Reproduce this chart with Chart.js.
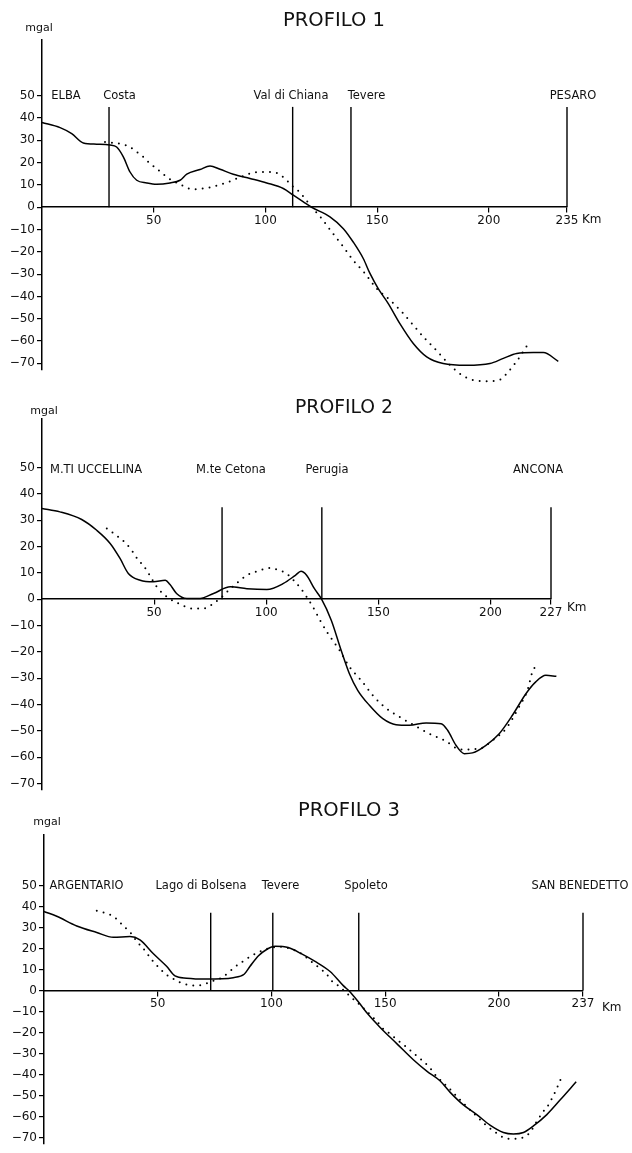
<!DOCTYPE html>
<html>
<head>
<meta charset="utf-8">
<script src="https://cdn.jsdelivr.net/npm/chart.js@4.4.1/dist/chart.umd.min.js"></script>
<style>
  html, body { margin: 0; padding: 0; background: #fff; }
  #wrap { position: relative; width: 632px; height: 1153px; }
  #wrap canvas { position: absolute; left: 0; top: 0; }
</style>
</head>
<body>
<div id="wrap">
  <canvas id="p1" width="632" height="1153"></canvas>
  <canvas id="p2" width="632" height="1153"></canvas>
  <canvas id="p3" width="632" height="1153"></canvas>
</div>
<script>
// ---- PROFILO 1 ----
const p1SolidKm  = [0, 8.1, 13.3, 18.5, 24.5, 30.4, 33.4, 36.4, 39.4, 42.4, 46.9, 51.3, 57.3, 61.8, 64.8, 70.7, 75.2, 79.7, 85.6, 93.1, 100.6, 108, 112.5, 117, 120.7, 128.9, 134.9, 139.3, 143.8, 146.8, 150.5, 155, 160.2, 166.2, 172.2, 179.6, 190.1, 200.5, 206.5, 212.5, 219.9, 224.4, 231.1];
const p1SolidVal = [38, 35.7, 33, 28.8, 28.3, 27.9, 27, 22.6, 15.8, 12.1, 10.9, 10.3, 10.9, 12.1, 14.8, 16.9, 18.5, 17, 14.8, 12.9, 10.9, 8.4, 5.4, 2.4, 0, -4.3, -9.6, -15.6, -23, -29.7, -36.5, -43.2, -52.2, -61.1, -67.1, -70.1, -70.9, -70.1, -67.8, -65.6, -65.2, -65.2, -69.1];
const p1DotKm  = [28.2, 31.9, 35.7, 39.4, 42.4, 45.3, 48.3, 51.3, 54.3, 58, 61.8, 64.8, 68.5, 72.2, 76, 79.7, 83.4, 87.2, 90.9, 94.6, 98.3, 102.1, 105.8, 109.5, 112.5, 115.5, 120, 125.2, 129.7, 134.9, 139.3, 144.6, 149.8, 155.5, 161, 166.2, 171.4, 176.7, 181.9, 187.9, 193, 199, 205, 208, 212.8, 217];
const p1DotVal = [29.3, 28.8, 28.3, 27, 24.8, 22.6, 19.6, 17.4, 14.8, 12.1, 10.3, 8.7, 8.1, 8.4, 9.1, 10.2, 11.3, 12.9, 14.3, 15.6, 15.8, 15.8, 15.1, 12.1, 9.1, 6.6, 0.9, -5.1, -11.1, -17.8, -23.8, -29.7, -36.5, -41.4, -46.9, -52.9, -58.9, -64.4, -70.1, -75.3, -77.5, -78, -77.3, -74.6, -68.6, -62.3];
const p1Places  = ['ELBA', 'Costa', 'Val di Chiana', 'Tevere', 'PESARO'];
const p1LinesKm = [30, 112.2, 138.3, 235];
const p1XTicks  = [50, 100, 150, 200, 235];

// ---- PROFILO 2 ----
const p2SolidKm  = [0, 8, 17.7, 24.4, 30.4, 34.8, 38.5, 43.8, 49.7, 55, 57, 60, 64.6, 70.5, 76.5, 84, 91.4, 100.3, 107.7, 113, 115.5, 118, 121.5, 124.5, 129, 133.4, 137.1, 140.8, 146, 152, 157.9, 163.8, 171.3, 178, 180.9, 184.6, 188.3, 192, 198, 203.9, 209.8, 215.8, 220.2, 224.7, 229.4];
const p2SolidVal = [34.5, 33.2, 30.3, 26.2, 21.2, 15.5, 9.8, 7.2, 6.6, 7.2, 5.7, 2.2, 0.3, 0.3, 2.2, 4.7, 4, 3.7, 6, 9.1, 10.6, 9.1, 4, 0.3, -8, -19.4, -28.3, -34.6, -40.3, -45.4, -47.7, -47.9, -47, -47.3, -49.8, -55.5, -58.7, -58.4, -55.5, -51.1, -44.1, -35.9, -31.4, -28.9, -29.3];
const p2DotKm  = [28.9, 32, 35, 37.5, 40.5, 43, 45.2, 47.4, 51.2, 55.7, 61.6, 66.8, 72, 76.5, 80.2, 84, 87.6, 91.4, 97.3, 101.8, 105.5, 109, 113.5, 116.5, 120.8, 124, 127.5, 132.7, 137.1, 142.3, 147.5, 152.7, 159.4, 166, 172.7, 179.4, 186.9, 195, 201, 206.9, 212.8, 216.5, 218.7, 220.5];
const p2DotVal = [26.9, 25, 23, 21.2, 18, 14.8, 12.9, 10, 4.7, 0.9, -1.9, -3.5, -3.5, -1.6, 0.9, 4, 6.6, 9.1, 11, 11.9, 11, 9.8, 6, 2.8, -2.9, -8, -13, -19.4, -25.7, -30.8, -36.5, -40.9, -44.7, -47.9, -51.1, -53.6, -57.1, -56.8, -53.6, -49.2, -40.9, -34.6, -27.6, -25.1];
const p2Places  = ['M.TI UCCELLINA', 'M.te Cetona', 'Perugia', 'ANCONA'];
const p2LinesKm = [80.3, 124.8, 227];
const p2XTicks  = [50, 100, 150, 200, 227];

// ---- PROFILO 3 ----
const p3SolidKm  = [0, 5.6, 14.4, 23.2, 30.5, 37.8, 42.2, 48, 53.9, 57.6, 62.7, 71.5, 83.2, 88, 90.6, 94.2, 97.9, 101.6, 107.4, 113.3, 119.2, 125.8, 131.6, 134.4, 138.2, 142.6, 147.8, 155.1, 162.4, 168.3, 174.1, 178.5, 184.4, 190.3, 196.1, 202, 206.4, 210.8, 215.2, 221.1, 226.9, 234];
const p3SolidVal = [37.6, 35.3, 30.7, 27.6, 25.3, 25.7, 24.1, 17.6, 11.5, 6.9, 5.8, 5.4, 6.1, 7.7, 11.5, 16.4, 19.5, 21, 20.4, 17.4, 13.8, 9, 2.3, -0.5, -5.4, -11.5, -17.6, -25.3, -33, -38.4, -43, -48.4, -54.5, -59.1, -64.1, -67.6, -68.3, -67.6, -64.5, -59.1, -52.2, -43.5];
const p3DotKm  = [23.2, 26.9, 30.5, 33.1, 36, 38.5, 40.7, 43.6, 48, 50.7, 53.5, 56.6, 59.8, 63.4, 67.1, 70.8, 74.4, 78.1, 81, 84, 87.4, 90.6, 93.8, 97.2, 100.1, 104, 108, 113, 118.4, 121.1, 124.3, 126.5, 129.4, 132.4, 134.9, 139, 143.4, 146.3, 149.2, 152.2, 155.1, 158, 160.9, 163.9, 166.8, 169.7, 171.9, 178.5, 182, 185.9, 188.8, 191.7, 194.7, 197.6, 200.5, 204.2, 207.9, 210.8, 213.7, 216.7, 219.6, 221.8, 223.7, 225.4, 226.9, 228.7];
const p3DotVal = [37.9, 36.9, 35.3, 32.7, 29.6, 26.9, 23.5, 20, 13.8, 10.7, 7.7, 5.7, 3.8, 2.6, 2.3, 3.1, 4.6, 6.1, 8.4, 11.2, 13.8, 16.1, 18, 19.5, 20.4, 20.8, 20, 17.6, 13, 10.7, 7.7, 4.6, 2.3, -0.5, -3.1, -6.9, -11.5, -14.6, -18.4, -20.7, -23.4, -25.7, -28.4, -31.2, -33.8, -36.9, -40, -47, -51, -55.3, -58.4, -61.4, -64.5, -66.8, -69.1, -70.6, -70.6, -69.9, -67.6, -62.2, -57.6, -54.5, -50.7, -46.9, -43, -40];
const p3Places  = ['ARGENTARIO', 'Lago di Bolsena', 'Tevere', 'Spoleto', 'SAN BENEDETTO'];
const p3LinesKm = [73.3, 100.6, 138.4, 237];
const p3XTicks  = [50, 100, 150, 200, 237];

const yTicks = [50, 40, 30, 20, 10, 0, -10, -20, -30, -40, -50, -60, -70];

// posizione e stile dei tre riquadri (pixel di pagina)
const panels = [
  { id: 'p1', title: 'PROFILO 1', solidKm: p1SolidKm, solidVal: p1SolidVal, dotKm: p1DotKm, dotVal: p1DotVal,
    places: p1Places, linesKm: p1LinesKm, xTicks: p1XTicks, lineTop: 45,
    area: { left: 42, right: 567, top: 40, bottom: 370 }, yMin: -73, yMax: 75,
    titlePos: [283, 21, 102], mgalPos: [39, 28], kmPos: [582, 220], placeY: 96,
    placeX: [66, 119.5, 291, 366.5, 573], placeW: [30, 36, 80, 40, 48] },
  { id: 'p2', title: 'PROFILO 2', solidKm: p2SolidKm, solidVal: p2SolidVal, dotKm: p2DotKm, dotVal: p2DotVal,
    places: p2Places, linesKm: p2LinesKm, xTicks: p2XTicks, lineTop: 35,
    area: { left: 42, right: 551, top: 419, bottom: 790 }, yMin: -72.5, yMax: 68.5,
    titlePos: [295, 408, 98], mgalPos: [44, 411], kmPos: [567, 608], placeY: 470,
    placeX: [96, 231, 327, 538], placeW: [93, 72, 48, 58] },
  { id: 'p3', title: 'PROFILO 3', solidKm: p3SolidKm, solidVal: p3SolidVal, dotKm: p3DotKm, dotVal: p3DotVal,
    places: p3Places, linesKm: p3LinesKm, xTicks: p3XTicks, lineTop: 37,
    area: { left: 44, right: 583, top: 835, bottom: 1153 }, yMin: -73, yMax: 74,
    titlePos: [298, 811, 102], mgalPos: [47, 822], kmPos: [602, 1008], placeY: 886,
    placeX: [86.5, 201, 280.5, 366, 580], placeW: [74, 99, 46, 47, 97] }
];

const FONT = '"DejaVu Sans", "Liberation Sans", sans-serif';

// testi: titolo, mgal, Km, località
const labelsPlugin = {
  id: 'labelsPlugin',
  afterDraw(chart, args, opts) {
    const p = opts.panel;
    const ctx = chart.ctx;
    ctx.save();
    ctx.fillStyle = '#111';
    ctx.textBaseline = 'middle';

    ctx.textAlign = 'left';
    ctx.font = '20px ' + FONT;
    ctx.fillText(p.title, p.titlePos[0], p.titlePos[1], p.titlePos[2]);

    ctx.textAlign = 'center';
    ctx.font = '11px ' + FONT;
    ctx.fillText('mgal', p.mgalPos[0], p.mgalPos[1]);

    ctx.textAlign = 'left';
    ctx.font = '12px ' + FONT;
    ctx.fillText('Km', p.kmPos[0], p.kmPos[1]);

    ctx.textAlign = 'center';
    ctx.font = '11.5px ' + FONT;
    p.places.forEach((name, i) => {
      ctx.fillText(name, p.placeX[i], p.placeY, p.placeW[i]);
    });
    ctx.restore();
  }
};

function makePanel(p) {
  const datasets = [
    {
      label: 'osservata',
      data: p.solidKm.map((x, i) => ({ x, y: p.solidVal[i] })),
      borderColor: '#000',
      borderWidth: 1.5,
      pointRadius: 0,
      cubicInterpolationMode: 'monotone',
      clip: false
    },
    {
      label: 'calcolata',
      data: p.dotKm.map((x, i) => ({ x, y: p.dotVal[i] })),
      borderColor: '#000',
      borderWidth: 2,
      borderDash: [0, 7],
      borderCapStyle: 'round',
      pointRadius: 0,
      cubicInterpolationMode: 'monotone',
      clip: false
    }
  ];
  // linee verticali delle località
  p.linesKm.forEach(km => {
    datasets.push({
      data: [{ x: km, y: 0 }, { x: km, y: p.lineTop }],
      borderColor: '#000',
      borderWidth: 1.4,
      pointRadius: 0,
      tension: 0,
      clip: false
    });
  });

  const xMax = p.xTicks[p.xTicks.length - 1];

  new Chart(document.getElementById(p.id), {
    type: 'line',
    data: { datasets },
    plugins: [labelsPlugin],
    options: {
      responsive: false,
      animation: false,
      devicePixelRatio: 1,
      layout: {
        padding: { left: 0, top: p.area.top, right: 632 - p.area.right, bottom: 1153 - p.area.bottom }
      },
      plugins: {
        legend: { display: false },
        tooltip: { enabled: false },
        labelsPlugin: { panel: p }
      },
      scales: {
        x: {
          type: 'linear',
          min: 0,
          max: xMax,
          position: { y: 0 },
          afterBuildTicks: s => { s.ticks = p.xTicks.map(v => ({ value: v })); },
          ticks: {
            color: '#111',
            font: { family: FONT, size: 12 },
            padding: 1,
            maxRotation: 0,
            autoSkip: false,
            callback: v => String(v)
          },
          grid: { drawOnChartArea: false, drawTicks: true, tickLength: 5, color: '#000', lineWidth: 1.2 },
          border: { display: true, color: '#000', width: 1.5 }
        },
        y: {
          type: 'linear',
          min: p.yMin,
          max: p.yMax,
          position: 'left',
          afterFit: s => { s.width = p.area.left; },
          afterBuildTicks: s => { s.ticks = yTicks.map(v => ({ value: v })); },
          ticks: {
            color: '#111',
            font: { family: FONT, size: 12 },
            padding: 2,
            autoSkip: false,
            callback: v => (v < 0 ? '\u2212' + Math.abs(v) : String(v))
          },
          grid: { drawOnChartArea: false, drawTicks: true, tickLength: 5, color: '#000', lineWidth: 1.2 },
          border: { display: true, color: '#000', width: 1.5 }
        }
      }
    }
  });
}

panels.forEach(makePanel);
</script>
</body>
</html>
